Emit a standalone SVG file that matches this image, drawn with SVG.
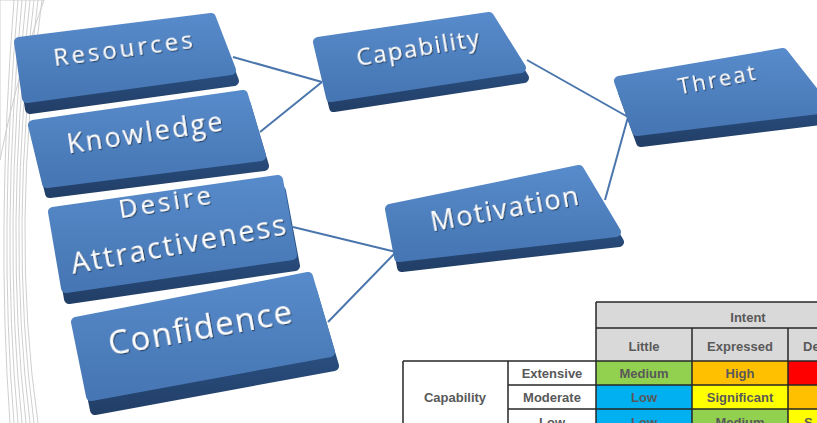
<svg xmlns="http://www.w3.org/2000/svg" width="817" height="423" viewBox="0 0 817 423">
<defs>
<linearGradient id="face" x1="0" y1="0" x2="0" y2="1">
<stop offset="0" stop-color="#578aca"/>
<stop offset="1" stop-color="#4676b3"/>
</linearGradient>
<linearGradient id="side" x1="0" y1="0" x2="0" y2="1">
<stop offset="0" stop-color="#33609a"/>
<stop offset="1" stop-color="#223f68"/>
</linearGradient>
<linearGradient id="swoosh" x1="0" y1="0" x2="0" y2="1">
<stop offset="0" stop-color="#c8c8c8"/>
<stop offset="1" stop-color="#ffffff" stop-opacity="0"/>
</linearGradient>
<filter id="ts" x="-10%" y="-30%" width="120%" height="160%">
<feDropShadow dx="1" dy="1.2" stdDeviation="0.7" flood-color="#1b2f4c" flood-opacity="0.8"/>
</filter>
</defs>
<style>
.face{fill:url(#face);stroke:url(#face);stroke-width:10;stroke-linejoin:round}
.side{fill:url(#side);stroke:url(#side);stroke-width:10;stroke-linejoin:round}
.lbl{font-family:"Open Sans","Liberation Sans",sans-serif;fill:#ffffff;text-anchor:middle;filter:url(#ts)}
.conn line{stroke:#4a76ad;stroke-width:2}
.deco path{fill:none;stroke:#cfcfcf;stroke-width:1}
.tb{font-family:"Liberation Sans",Arial,sans-serif;font-weight:bold;font-size:13px;fill:#595959;text-anchor:middle}
.grid line{stroke:#262626;stroke-width:1.5}
</style>
<rect width="817" height="423" fill="#ffffff"/>
<g class="deco">
<path d="M0,0 L44,0 C30,40 14,90 0,160 Z" fill="url(#swoosh)" stroke="none"/>
<path d="M14,0 Q-4,230 10,423"/>
<path d="M18,0 Q-2,230 14,423"/>
<path d="M22,0 Q0,230 18,423"/>
<path d="M26,0 Q2,230 22,423"/>
<path d="M30,0 Q4,230 26,423"/>
<path d="M34,0 Q6,230 30,423"/>
<path d="M38,0 Q8,230 34,423"/>
<path d="M42,0 Q10,230 38,423"/>
</g>
<g class="conn">
<line x1="233" y1="57" x2="322" y2="82"/>
<line x1="260" y1="132" x2="322" y2="82"/>
<line x1="527" y1="60" x2="628" y2="117"/>
<line x1="605" y1="200" x2="628" y2="117"/>
<line x1="293" y1="227" x2="396" y2="252"/>
<line x1="328" y1="322" x2="396" y2="252"/>
</g>
<g id="resources">
<polygon class="side" transform="translate(3,11)" points="19,42 211,18 231,70 27,98"/>
<polygon class="face" points="19,42 211,18 231,70 27,98"/>
<text class="lbl" font-size="24" textLength="140" lengthAdjust="spacing" transform="translate(124,57) rotate(-7.5)">Resources</text>
</g>
<g id="knowledge">
<polygon class="side" transform="translate(3,10)" points="33,125 243,95 261,156 47,183"/>
<polygon class="face" points="33,125 243,95 261,156 47,183"/>
<text class="lbl" font-size="27" textLength="157" lengthAdjust="spacing" transform="translate(146,142) rotate(-8.5)">Knowledge</text>
</g>
<g id="desire">
<polygon class="side" transform="translate(3,11)" points="53,212 278,180 292,255 66,288"/>
<polygon class="face" points="53,212 278,180 292,255 66,288"/>
<text class="lbl" font-size="26" textLength="93" lengthAdjust="spacing" transform="translate(166,211) rotate(-9)">Desire</text>
<text class="lbl" font-size="29" textLength="218" lengthAdjust="spacing" transform="translate(180,254) rotate(-10.5)">Attractiveness</text>
</g>
<g id="confidence">
<polygon class="side" transform="translate(4,14)" points="76,322 308,277 330,352 91,396"/>
<polygon class="face" points="76,322 308,277 330,352 91,396"/>
<text class="lbl" font-size="33" textLength="186" lengthAdjust="spacing" transform="translate(202,339) rotate(-10.2)">Confidence</text>
</g>
<g id="capability">
<polygon class="side" transform="translate(3,10)" points="318,42 489,17 521,68 331,97"/>
<polygon class="face" points="318,42 489,17 521,68 331,97"/>
<text class="lbl" font-size="24" textLength="124" lengthAdjust="spacing" transform="translate(419,56) rotate(-9.3)">Capability</text>
</g>
<g id="motivation">
<polygon class="side" transform="translate(3,10)" points="390,209 579,170 616,232 399,257"/>
<polygon class="face" points="390,209 579,170 616,232 399,257"/>
<text class="lbl" font-size="27" textLength="150" lengthAdjust="spacing" transform="translate(506,218) rotate(-10.3)">Motivation</text>
</g>
<g id="threat">
<polygon class="side" transform="translate(4,11)" points="619,81 783,53 826,108 637,131"/>
<polygon class="face" points="619,81 783,53 826,108 637,131"/>
<text class="lbl" font-size="22" textLength="78" lengthAdjust="spacing" transform="translate(718,87) rotate(-11)">Threat</text>
</g>
<g id="table">
<rect x="596" y="302" width="221" height="59" fill="#d9d9d9"/>
<rect x="596" y="361" width="96" height="24" fill="#92d050"/>
<rect x="692" y="361" width="96" height="24" fill="#ffc000"/>
<rect x="788" y="361" width="29" height="24" fill="#ff0000"/>
<rect x="596" y="385" width="96" height="24" fill="#00b0f0"/>
<rect x="692" y="385" width="96" height="24" fill="#ffff00"/>
<rect x="788" y="385" width="29" height="24" fill="#ffc000"/>
<rect x="596" y="409" width="96" height="14" fill="#00b0f0"/>
<rect x="692" y="409" width="96" height="14" fill="#92d050"/>
<rect x="788" y="409" width="29" height="14" fill="#ffff00"/>
<g class="grid">
<line x1="596" y1="302" x2="817" y2="302"/>
<line x1="596" y1="328" x2="817" y2="328"/>
<line x1="403" y1="361" x2="817" y2="361"/>
<line x1="508" y1="385" x2="817" y2="385"/>
<line x1="508" y1="409" x2="817" y2="409"/>
<line x1="596" y1="302" x2="596" y2="423"/>
<line x1="692" y1="328" x2="692" y2="423"/>
<line x1="788" y1="328" x2="788" y2="423"/>
<line x1="403" y1="361" x2="403" y2="423"/>
<line x1="508" y1="361" x2="508" y2="423"/>
</g>
<text class="tb" x="748" y="322">Intent</text>
<text class="tb" x="644" y="351">Little</text>
<text class="tb" x="740" y="351">Expressed</text>
<text class="tb" x="803" y="351" style="text-anchor:start">De</text>
<text class="tb" x="552" y="378">Extensive</text>
<text class="tb" x="552" y="402">Moderate</text>
<text class="tb" x="552" y="427">Low</text>
<text class="tb" x="455" y="402">Capability</text>
<text class="tb" x="644" y="378">Medium</text>
<text class="tb" x="740" y="378">High</text>
<text class="tb" x="644" y="402">Low</text>
<text class="tb" x="740" y="402">Significant</text>
<text class="tb" x="644" y="427">Low</text>
<text class="tb" x="740" y="427">Medium</text>
<text class="tb" x="804" y="427" style="text-anchor:start">S</text>
</g>
</svg>
